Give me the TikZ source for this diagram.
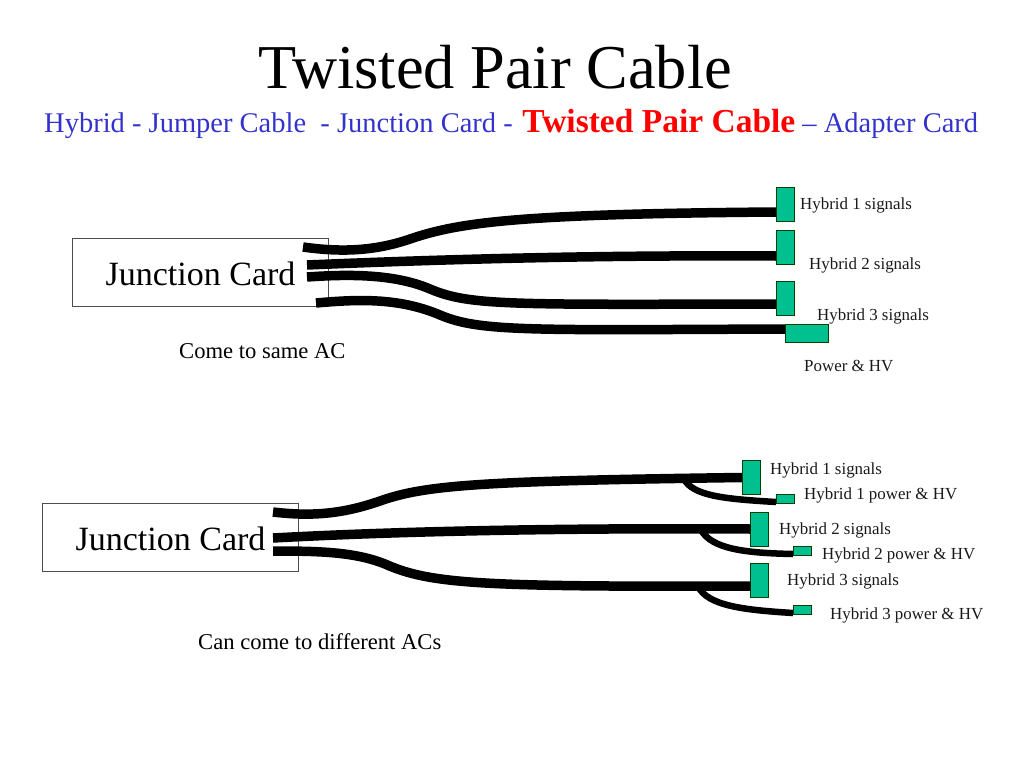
\documentclass[tikz,border=0pt]{standalone}
\usepackage{fontspec}
\setmainfont{Liberation Serif}
\definecolor{tgreen}{HTML}{00C090}
\definecolor{tblue}{HTML}{3333CC}
\newcommand{\fsz}[1]{\fontsize{#1}{#1}\selectfont}
\tikzset{
  cable/.style={line width=9.5pt,black},
  branch/.style={line width=6.5pt,black},
  conn/.style={draw=black!75!green,fill=tgreen,line width=0.7pt,inner sep=0pt,outer sep=0pt,minimum width=18pt,minimum height=34pt},
  smallconn/.style={conn,minimum height=9pt},
  jcard/.style={draw=black!70,fill=white,line width=0.7pt,inner sep=0pt,outer sep=0pt,minimum width=256pt,minimum height=68pt,font=\fsz{34},text height=26pt,text depth=0pt},
  lab/.style={anchor=base west,inner sep=0pt,font=\fsz{16.9},text=black!90},
  note/.style={anchor=base west,inner sep=0pt,font=\fsz{22.6}}
}
\begin{document}
\begin{tikzpicture}[x=1pt,y=-1pt]
\useasboundingbox (0,0) rectangle (1024,768);
\node[anchor=base west,inner sep=0pt,font=\fsz{62.4}] (title) at (258,88) {Twisted Pair Cable};
\node[anchor=base west,inner sep=0pt,font=\fsz{28.5},text=tblue] (sub) at (44,132.5) {Hybrid - Jumper Cable\ \ - Junction Card - \kern2.5pt{\color{red}\fsz{33.5}\bfseries Twisted Pair Cable} – Adapter Card};

\node[jcard] (ja) at (200.5,272.5) {Junction Card};
\node[jcard] (jb) at (170.5,537.5) {Junction Card};

\node[conn] (a1) at (785,204) {};
\node[conn] (a2) at (785,247) {};
\node[conn] (a3) at (785,298.5) {};
\node[conn,minimum width=43pt,minimum height=18pt] (a4) at (806.5,333) {};

\node[conn] (b1) at (751,477.5) {};
\node[conn] (b2) at (759.5,529) {};
\node[conn] (b3) at (759.5,580) {};
\node[smallconn] (p1) at (785,499) {};
\node[smallconn] (p2) at (802,550.5) {};
\node[smallconn] (p3) at (802,610) {};

\coordinate (s1) at (303,247);
\coordinate (s2) at (307,265);
\coordinate (s3) at (307,277);
\coordinate (s4) at (316,303);
\coordinate (t1) at (273,512);
\coordinate (t2) at (273,538);
\coordinate (t3) at (273,551);
\coordinate (q1) at (684,479);
\coordinate (q2) at (701,530);
\coordinate (q3) at (698,586);

\draw[cable] (s1) .. controls (345,253) and (378,250) .. (410,239) .. controls (460,222) and (520,214) .. ([yshift=-8pt]a1.west);
\draw[cable] (s2) .. controls (450,259) and (600,255) .. ([yshift=-9pt]a2.west);
\draw[cable] (s3) .. controls (350,274) and (395,274) .. (430,289) .. controls (470,306) and (510,304.5) .. ([yshift=-5.5pt]a3.west);
\draw[cable] (s4) .. controls (360,299) and (400,298) .. (440,315) .. controls (480,332) and (530,330) .. ([yshift=4pt]a4.west);

\draw[cable] (t1) .. controls (315,517) and (345,513) .. (380,501) .. controls (425,485) and (480,481) .. (b1.west);
\draw[cable] (t2) .. controls (420,530) and (600,528) .. (b2.west);
\draw[cable] (t3) .. controls (320,551) and (355,552) .. (385,564) .. controls (430,584) and (480,587) .. ([yshift=-6pt]b3.west);

\draw[branch] (q1) .. controls (693,496) and (725,499) .. ([yshift=-3pt]p1.west);
\draw[branch] (q2) .. controls (712,549) and (745,553) .. ([yshift=-3.5pt]p2.west);
\draw[branch] (q3) .. controls (707,606) and (745,610) .. ([yshift=-3pt]p3.west);

\node[note] (na) at (179,358.3) {Come to same AC};
\node[note] (nb) at (198,649.3) {Can come to different ACs};

\node[lab] (la1) at (800,209.5) {Hybrid 1 signals};
\node[lab] (la2) at (809,269.5) {Hybrid 2 signals};
\node[lab] (la3) at (817,320.5) {Hybrid 3 signals};
\node[lab] (la4) at (804,371.5) {Power \& HV};
\node[lab] (lb1) at (770,474.5) {Hybrid 1 signals};
\node[lab] (lc1) at (804,499.5) {Hybrid 1 power \& HV};
\node[lab] (lb2) at (779,534.5) {Hybrid 2 signals};
\node[lab] (lc2) at (822,559.5) {Hybrid 2 power \& HV};
\node[lab] (lb3) at (787,585.5) {Hybrid 3 signals};
\node[lab] (lc3) at (830,619.5) {Hybrid 3 power \& HV};
\end{tikzpicture}
\end{document}
